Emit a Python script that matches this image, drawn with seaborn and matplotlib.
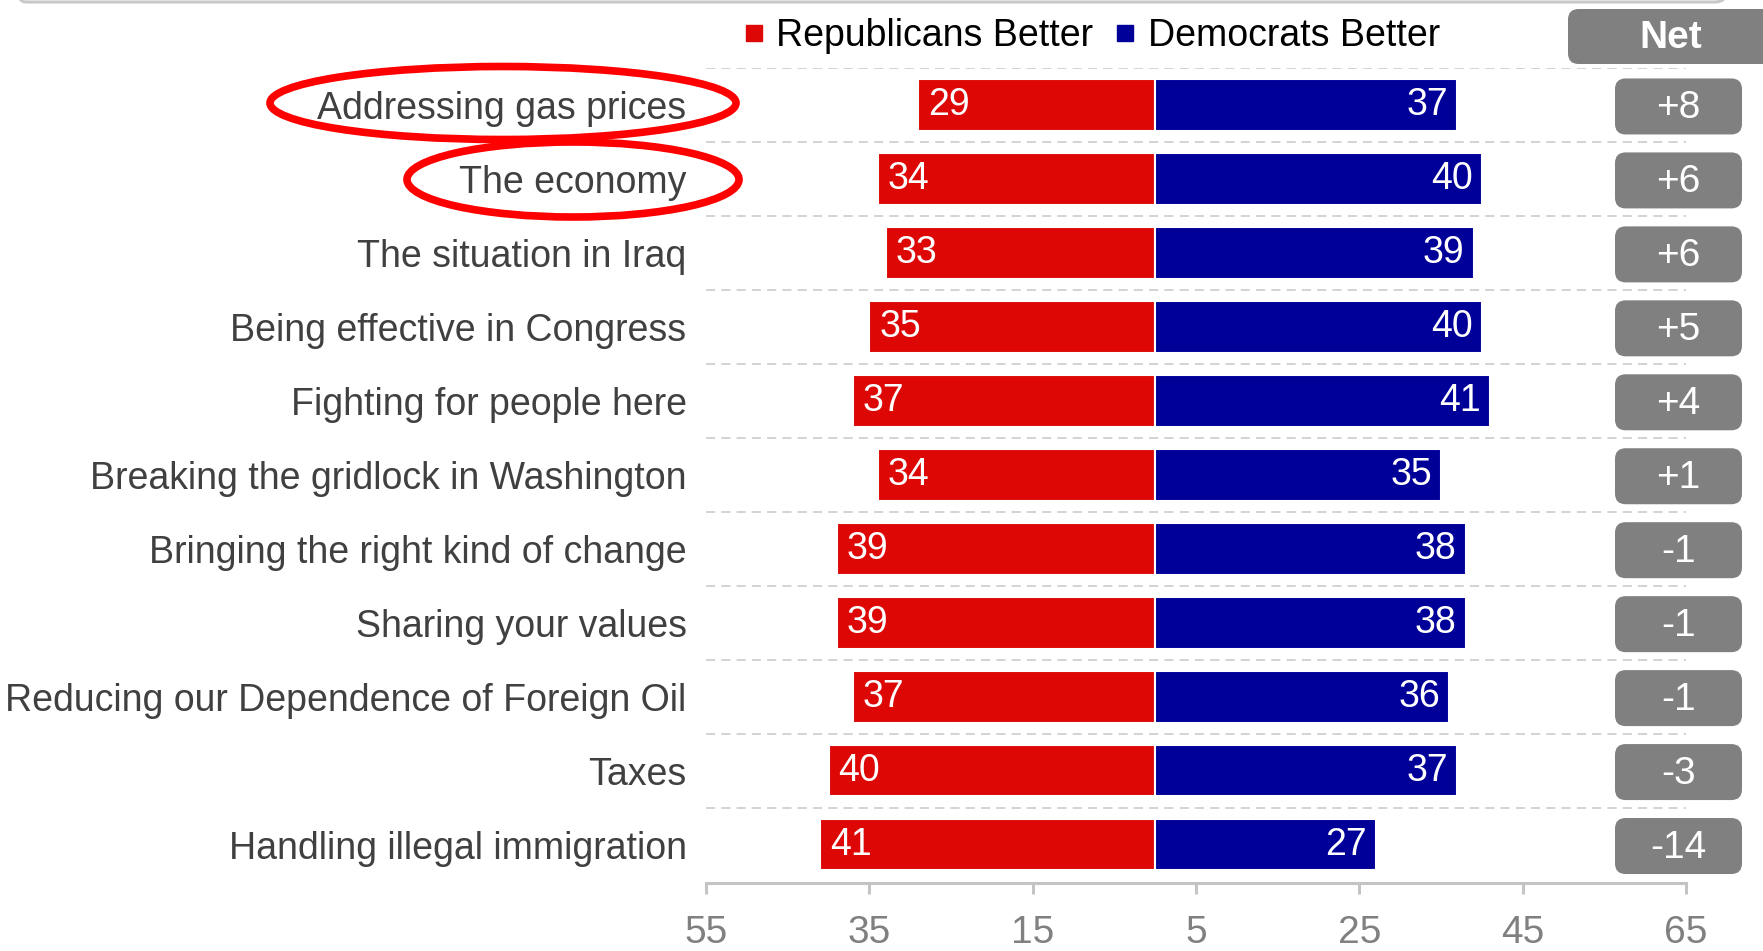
import matplotlib
matplotlib.use("Agg")
import matplotlib.pyplot as plt
from matplotlib.patches import FancyBboxPatch, Ellipse
from matplotlib.lines import Line2D
import seaborn as sns
import pandas as pd

issues = [
    "Addressing gas prices",
    "The economy",
    "The situation in Iraq",
    "Being effective in Congress",
    "Fighting for people here",
    "Breaking the gridlock in Washington",
    "Bringing the right kind of change",
    "Sharing your values",
    "Reducing our Dependence of Foreign Oil",
    "Taxes",
    "Handling illegal immigration",
]
republicans = [29, 34, 33, 35, 37, 34, 39, 39, 37, 40, 41]
democrats = [37, 40, 39, 40, 41, 35, 38, 38, 36, 37, 27]
net_labels = ["+8", "+6", "+6", "+5", "+4", "+1", "-1", "-1", "-1", "-3", "-14"]
tick_values = [-55, -35, -15, 5, 25, 45, 65]

RED = "#DD0806"
BLUE = "#000099"
GREY_BOX = "#808080"

df = pd.DataFrame({"issue": issues, "rep": republicans, "dem": democrats})
df["rep_neg"] = -df["rep"]

sns.set_theme(style="white")
plt.rcParams["font.family"] = ["Liberation Sans", "DejaVu Sans"]

W, H = 1763, 951
fig = plt.figure(figsize=(W / 100, H / 100), dpi=100)
ax = fig.add_axes([706 / W, (H - 883) / H, 980 / W, 815 / H])

sns.barplot(data=df, x="rep_neg", y="issue", color=RED, saturation=1,
            width=0.7, edgecolor="white", linewidth=1.5, ax=ax)
sns.barplot(data=df, x="dem", y="issue", color=BLUE, saturation=1,
            width=0.7, edgecolor="white", linewidth=1.5, ax=ax)

ax.set_xlim(-55, 65)
ax.set_ylim(len(issues) - 0.48, -0.5)

# dashed separators between rows
for i in range(len(issues)):
    ax.hlines(i - 0.5, -55, 65, colors="#c8c8c8", linewidth=1.1,
              linestyles=(0, (6, 4)), zorder=0)

# value labels inside bars
for i, (r, d) in enumerate(zip(republicans, democrats)):
    ax.text(-r + 1.2, i, str(r), color="white", fontsize=27,
            ha="left", va="center")
    ax.text(d - 1.1, i, str(d), color="white", fontsize=27,
            ha="right", va="center")

# net boxes on the right
px_x = 980 / 120    # pixels per x unit
px_y = 815 / 11.02  # pixels per row
box_w = 127 / px_x
box_h = 56 / px_y
x0 = (1615 - 706) / px_x - 55
for i, lab in enumerate(net_labels):
    patch = FancyBboxPatch((x0, i - box_h / 2 + 0.02), box_w, box_h,
                           boxstyle="round,pad=0,rounding_size=1.3",
                           mutation_aspect=px_x / px_y,
                           fc=GREY_BOX, ec="none", clip_on=False, zorder=3)
    ax.add_patch(patch)
    ax.text(x0 + box_w / 2, i + 0.04, lab, color="white", fontsize=28,
            ha="center", va="center", clip_on=False, zorder=4)

# axes styling
sns.despine(ax=ax, left=True, top=True, right=True)
ax.spines["bottom"].set_color("#c4c4c4")
ax.spines["bottom"].set_linewidth(2.2)
ax.set_xticks(tick_values)
ax.set_xticklabels([str(abs(v)) for v in tick_values])
ax.tick_params(axis="x", bottom=True, length=8, width=2.2, color="#c4c4c4",
               labelsize=28, labelcolor="#808080", pad=15)
ax.tick_params(axis="y", left=False, length=0, labelsize=27,
               labelcolor="#404040", pad=14)
ax.set_xlabel("")
ax.set_ylabel("")
ax.grid(False)

# legend
handles = [
    Line2D([], [], marker="s", linestyle="none", markersize=12,
           markerfacecolor=RED, markeredgecolor=RED),
    Line2D([], [], marker="s", linestyle="none", markersize=12,
           markerfacecolor=BLUE, markeredgecolor=BLUE),
]
fig.legend(handles, ["Republicans Better", "Democrats Better"], loc="center",
           bbox_to_anchor=(1092 / W, 1 - 36 / H), ncol=2, frameon=False,
           fontsize=27, handlelength=0.5, handletextpad=0.35,
           columnspacing=0.6, labelcolor="black")

# "Net" header
fig.patches.append(FancyBboxPatch(
    (1568 / W, 1 - 64 / H), 240 / W, 55 / H,
    boxstyle="round,pad=0,rounding_size=0.006", mutation_aspect=W / H,
    transform=fig.transFigure, fc=GREY_BOX, ec="none", figure=fig))
fig.text(1671 / W, 1 - 38 / H, "Net", color="white", fontsize=28,
         fontweight="bold", ha="center", va="center")

# frame edge at the very top
fig.patches.append(FancyBboxPatch(
    (13 / W, 1 - 2 / H), 1714 / W, 60 / H,
    boxstyle="round,pad=0,rounding_size=0.007", mutation_aspect=W / H,
    transform=fig.transFigure, fc="none", ec="#c8c8c8", lw=2.2, figure=fig))

# highlight ellipses around two issues
fig.patches.append(Ellipse((503 / W, 1 - 103 / H), 466 / W, 73 / H,
                           transform=fig.transFigure, fill=False,
                           ec="#FF0000", lw=5.5, figure=fig))
fig.patches.append(Ellipse((573 / W, 1 - 179.5 / H), 332 / W, 75 / H,
                           transform=fig.transFigure, fill=False,
                           ec="#FF0000", lw=5.5, figure=fig))

fig.savefig("out.png", dpi=100)
